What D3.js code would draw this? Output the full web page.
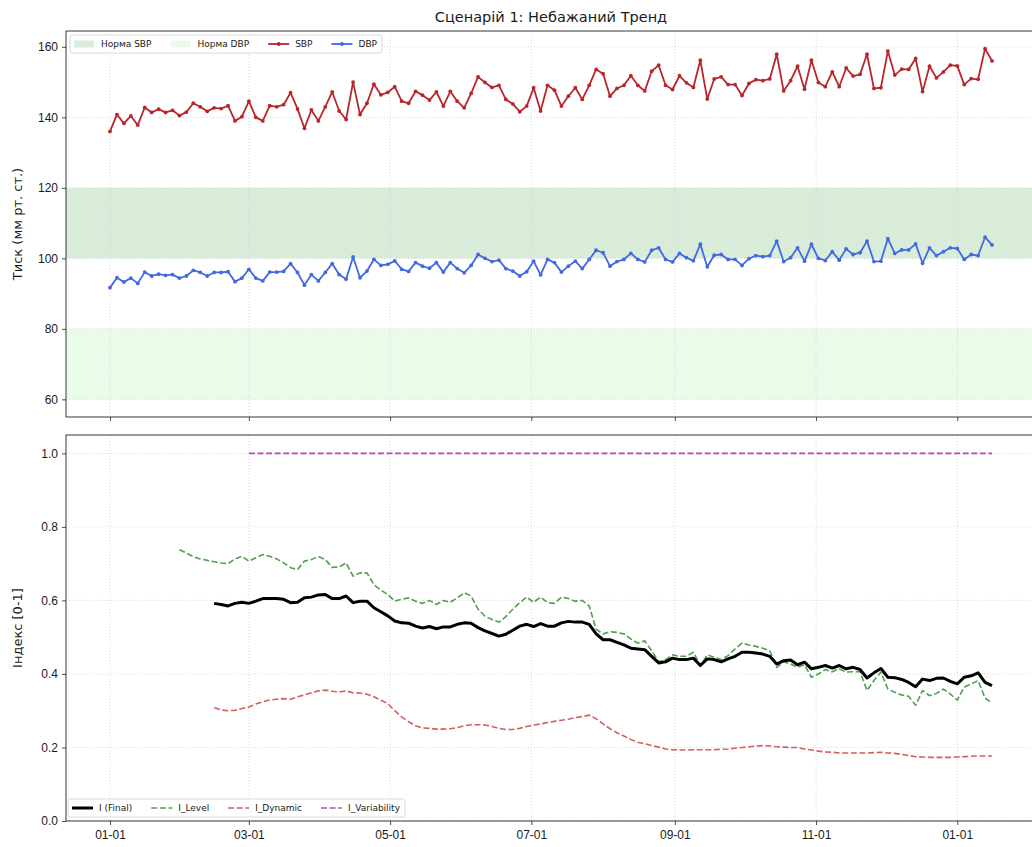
<!DOCTYPE html>
<html lang="uk">
<head>
<meta charset="UTF-8">
<title>Сценарій 1: Небажаний Тренд</title>
<script src="https://cdn.jsdelivr.net/npm/d3@7"></script>
<style>
  body { margin: 0; background: #fff; }
  svg { font-family: "DejaVu Sans", sans-serif; display: block; }
  .grid line { stroke: #cfcfcf; stroke-width: 0.8; stroke-dasharray: 1,2; }
  .grid path { display: none; }
  .axis text { font-size: 12px; fill: #1a1a1a; }
  .axis path { display: none; }
  .axis line { stroke: #222; stroke-width: 0.8; }
  .legend text { font-size: 9px; fill: #1a1a1a; }
</style>
</head>
<body>
<svg id="chart" width="1032" height="847"></svg>
<script>
// measurements every 3 days starting 2024-01-01
var startDate = new Date(Date.UTC(2024, 0, 1));
var stepDays = 3;

var sbp = [136.0,140.8,138.3,140.4,137.8,142.8,141.4,142.3,141.4,142.0,
           140.5,141.5,144.0,143.0,141.7,142.7,142.5,143.3,139.0,140.2,
           144.6,140.0,139.0,143.3,143.0,143.6,147.0,142.4,136.9,142.1,
           139.0,143.0,147.2,141.8,139.4,150.0,140.8,144.0,149.4,146.4,
           147.1,148.7,144.6,144.0,147.4,146.3,144.9,147.2,143.2,147.4,
           144.6,142.7,146.8,151.5,149.9,148.5,149.1,145.1,143.8,141.6,
           143.2,148.4,141.8,149.1,147.7,143.2,146.0,148.4,145.1,149.1,
           153.6,152.4,146.0,148.2,149.1,151.8,149.1,147.5,153.1,154.8,
           149.1,147.9,151.8,149.8,148.5,156.2,145.2,150.9,151.5,149.3,
           149.3,146.2,149.6,150.7,150.4,150.9,157.9,147.5,150.4,154.5,
           148.0,156.2,149.9,148.7,152.9,148.7,154.0,151.7,152.2,157.9,
           148.2,148.4,158.8,152.0,153.7,153.6,156.7,147.3,154.5,151.2,
           152.9,154.8,154.6,149.3,151.0,150.8,159.5,156.0];

var dbp = [91.7,94.5,93.3,94.4,92.9,96.1,95.0,95.5,95.2,95.4,
           94.4,95.0,96.6,96.0,95.0,96.0,96.0,96.2,93.4,94.4,
           96.9,94.4,93.6,96.1,96.1,96.3,98.5,96.0,92.4,95.4,
           93.6,96.0,98.5,95.4,94.1,100.4,94.5,96.4,99.7,98.0,
           98.3,99.3,96.9,96.3,98.8,97.8,97.2,98.8,96.1,98.8,
           97.1,95.9,98.0,101.1,100.0,99.1,99.5,97.1,96.4,95.0,
           96.2,99.2,95.3,99.7,98.8,96.1,97.8,99.2,97.1,99.7,
           102.3,101.6,97.8,99.1,99.7,101.4,99.7,99.0,102.3,103.0,
           99.7,99.0,101.4,100.2,99.3,104.0,97.6,100.9,101.1,99.7,
           99.7,98.0,99.9,100.8,100.5,100.8,104.9,99.1,100.2,103.0,
           99.2,104.0,100.0,99.4,101.9,99.5,102.7,101.1,101.6,104.9,
           99.1,99.2,105.6,101.4,102.4,102.4,104.1,98.6,103.0,100.8,
           101.9,103.0,102.8,99.7,101.1,100.8,106.0,103.8];

// normal ranges
var sbpNorm = [100, 120];
var dbpNorm = [60, 80];

// index series, each starts at the given measurement number (0-based)
var levelStart = 10;
var iLevel = [0.738,0.729,0.719,0.713,0.709,0.705,0.702,0.700,0.713,0.720,
              0.707,0.716,0.725,0.720,0.713,0.702,0.689,0.684,0.707,0.711,
              0.720,0.711,0.690,0.691,0.702,0.666,0.675,0.675,0.643,0.628,
              0.616,0.598,0.603,0.607,0.598,0.592,0.600,0.589,0.600,0.595,
              0.607,0.621,0.612,0.576,0.557,0.548,0.541,0.556,0.576,0.594,
              0.609,0.595,0.609,0.594,0.592,0.609,0.605,0.598,0.600,0.585,
              0.522,0.509,0.515,0.513,0.509,0.495,0.484,0.490,0.463,0.433,
              0.439,0.452,0.448,0.448,0.459,0.423,0.452,0.445,0.439,0.450,
              0.468,0.484,0.479,0.475,0.470,0.463,0.418,0.433,0.427,0.418,
              0.425,0.391,0.400,0.412,0.406,0.414,0.405,0.406,0.406,0.355,
              0.382,0.405,0.359,0.350,0.343,0.339,0.315,0.355,0.341,0.347,
              0.359,0.345,0.329,0.364,0.373,0.382,0.334,0.321];

var finalStart = 15;
var iFinal = [0.592,0.589,0.585,0.592,0.595,0.592,0.598,0.605,0.605,0.605,
              0.603,0.594,0.595,0.607,0.609,0.615,0.616,0.605,0.605,0.612,
              0.594,0.598,0.598,0.580,0.569,0.558,0.544,0.539,0.538,0.530,
              0.525,0.529,0.523,0.528,0.528,0.535,0.539,0.538,0.526,0.517,
              0.510,0.503,0.508,0.519,0.530,0.535,0.529,0.537,0.530,0.530,
              0.539,0.543,0.541,0.541,0.535,0.509,0.493,0.493,0.486,0.479,
              0.470,0.468,0.466,0.448,0.430,0.433,0.443,0.439,0.439,0.443,
              0.423,0.441,0.439,0.433,0.441,0.448,0.459,0.459,0.457,0.454,
              0.448,0.427,0.436,0.438,0.425,0.432,0.414,0.418,0.423,0.416,
              0.423,0.414,0.418,0.412,0.389,0.403,0.415,0.391,0.390,0.385,
              0.377,0.365,0.386,0.382,0.388,0.389,0.380,0.373,0.391,0.395,
              0.403,0.377,0.368];

var dynamicStart = 15;
var iDynamic = [0.309,0.302,0.300,0.301,0.306,0.310,0.318,0.324,0.329,0.331,
                0.333,0.331,0.338,0.343,0.349,0.354,0.356,0.353,0.351,0.354,
                0.349,0.348,0.345,0.338,0.329,0.319,0.300,0.283,0.270,0.259,
                0.253,0.252,0.250,0.250,0.251,0.254,0.259,0.262,0.262,0.261,
                0.257,0.252,0.249,0.249,0.252,0.257,0.261,0.264,0.268,0.271,
                0.274,0.277,0.281,0.284,0.288,0.278,0.264,0.251,0.240,0.231,
                0.222,0.214,0.210,0.205,0.201,0.196,0.194,0.193,0.193,0.194,
                0.194,0.194,0.194,0.195,0.196,0.198,0.200,0.202,0.204,0.205,
                0.204,0.202,0.201,0.200,0.200,0.196,0.193,0.190,0.188,0.187,
                0.185,0.185,0.185,0.185,0.185,0.186,0.187,0.185,0.184,0.181,
                0.178,0.175,0.174,0.173,0.173,0.173,0.173,0.174,0.175,0.176,
                0.177,0.177,0.177];

var variabilityStart = 20;
var iVariability = [1,1,1,1,1,1,1,1,1,1, 1,1,1,1,1,1,1,1,1,1,
                    1,1,1,1,1,1,1,1,1,1, 1,1,1,1,1,1,1,1,1,1,
                    1,1,1,1,1,1,1,1,1,1, 1,1,1,1,1,1,1,1,1,1,
                    1,1,1,1,1,1,1,1,1,1, 1,1,1,1,1,1,1,1,1,1,
                    1,1,1,1,1,1,1,1,1,1, 1,1,1,1,1,1,1,1,1,1,
                    1,1,1,1,1,1,1,1];

var pressureTicks = [60, 80, 100, 120, 140, 160];
var indexTicks = [0.0, 0.2, 0.4, 0.6, 0.8, 1.0];

var dates = sbp.map(function(d, i) { return d3.utcDay.offset(startDate, i * stepDays); });

var svg = d3.select("#chart");
var left = 66, right = 1036;
var top1 = 31, bottom1 = 417, top2 = 435, bottom2 = 821;

var x = d3.scaleUtc()
    .domain([d3.utcDay.offset(dates[0], -19), d3.utcDay.offset(dates[dates.length - 1], 19)])
    .range([left, right]);
var y1 = d3.scaleLinear().domain([55, 164.5]).range([bottom1, top1]);
var y2 = d3.scaleLinear().domain([0, 1.05]).range([bottom2, top2]);

var xTicks = d3.utcMonth.every(2).range(x.domain()[0], x.domain()[1]);
var fmt = d3.utcFormat("%m-%d");

function series(values, offset) {
    return values.map(function(v, i) { return {date: dates[i + offset], value: v}; });
}

function drawGrid(y, ticks, top, bottom) {
    var g = svg.append("g").attr("class", "grid");
    g.selectAll(".gx").data(xTicks).enter().append("line")
        .attr("x1", function(d) { return x(d); }).attr("x2", function(d) { return x(d); })
        .attr("y1", top).attr("y2", bottom);
    g.selectAll(".gy").data(ticks).enter().append("line")
        .attr("x1", left).attr("x2", right)
        .attr("y1", function(d) { return y(d); }).attr("y2", function(d) { return y(d); });
}

// ---- top panel ----
svg.append("rect").attr("x", left).attr("width", right - left)
    .attr("y", y1(sbpNorm[1])).attr("height", y1(sbpNorm[0]) - y1(sbpNorm[1]))
    .attr("fill", "green").attr("fill-opacity", 0.15);
svg.append("rect").attr("x", left).attr("width", right - left)
    .attr("y", y1(dbpNorm[1])).attr("height", y1(dbpNorm[0]) - y1(dbpNorm[1]))
    .attr("fill", "lightgreen").attr("fill-opacity", 0.2);

drawGrid(y1, pressureTicks, top1, bottom1);

var line1 = d3.line().x(function(d) { return x(d.date); }).y(function(d) { return y1(d.value); });

function drawMarked(values, color) {
    var data = series(values, 0);
    svg.append("path").datum(data)
        .attr("fill", "none").attr("stroke", color).attr("stroke-width", 1.8)
        .attr("stroke-linejoin", "round").attr("d", line1);
    svg.append("g").selectAll("circle").data(data).enter().append("circle")
        .attr("cx", function(d) { return x(d.date); })
        .attr("cy", function(d) { return y1(d.value); })
        .attr("r", 1.9).attr("fill", color);
}
drawMarked(sbp, "#b8262b");
drawMarked(dbp, "#4169e1");

svg.append("g").attr("class", "axis")
    .attr("transform", "translate(" + left + ",0)")
    .call(d3.axisLeft(y1).tickValues(pressureTicks).tickSize(4).tickPadding(4));
svg.append("g").attr("class", "axis")
    .attr("transform", "translate(0," + bottom1 + ")")
    .call(d3.axisBottom(x).tickValues(xTicks).tickSize(4).tickFormat(""));

svg.append("rect").attr("x", left).attr("y", top1)
    .attr("width", right - left).attr("height", bottom1 - top1)
    .attr("fill", "none").attr("stroke", "#222").attr("stroke-width", 0.9);

// ---- bottom panel ----
drawGrid(y2, indexTicks, top2, bottom2);

var line2 = d3.line().x(function(d) { return x(d.date); }).y(function(d) { return y2(d.value); });

var indexSeries = [
    {name: "I (Final)", values: iFinal, offset: finalStart, color: "#000", width: 3, dash: null},
    {name: "I_Level", values: iLevel, offset: levelStart, color: "#4f9f4f", width: 1.6, dash: "6,2.6"},
    {name: "I_Dynamic", values: iDynamic, offset: dynamicStart, color: "#d45f5f", width: 1.6, dash: "6,2.6"},
    {name: "I_Variability", values: iVariability, offset: variabilityStart, color: "#b447b8", width: 1.6, dash: "6,2.6"}
];
// draw dashed first, black on top
[1, 2, 3, 0].forEach(function(k) {
    var s = indexSeries[k];
    svg.append("path").datum(series(s.values, s.offset))
        .attr("fill", "none").attr("stroke", s.color).attr("stroke-width", s.width)
        .attr("stroke-dasharray", s.dash).attr("stroke-linejoin", "round")
        .attr("d", line2);
});

svg.append("g").attr("class", "axis")
    .attr("transform", "translate(" + left + ",0)")
    .call(d3.axisLeft(y2).tickValues(indexTicks).tickSize(4).tickPadding(4).tickFormat(d3.format(".1f")));
svg.append("g").attr("class", "axis")
    .attr("transform", "translate(0," + bottom2 + ")")
    .call(d3.axisBottom(x).tickValues(xTicks).tickSize(4).tickPadding(5).tickFormat(fmt));

svg.append("rect").attr("x", left).attr("y", top2)
    .attr("width", right - left).attr("height", bottom2 - top2)
    .attr("fill", "none").attr("stroke", "#222").attr("stroke-width", 0.9);

// ---- titles ----
svg.append("text").attr("x", (left + right) / 2).attr("y", 22)
    .attr("text-anchor", "middle").attr("font-size", "14.5px").attr("fill", "#1a1a1a")
    .text("Сценарій 1: Небажаний Тренд");
svg.append("text").attr("transform", "translate(22," + (top1 + bottom1) / 2 + ") rotate(-90)")
    .attr("text-anchor", "middle").attr("font-size", "13px").attr("fill", "#1a1a1a")
    .text("Тиск (мм рт. ст.)");
svg.append("text").attr("transform", "translate(22," + (top2 + bottom2) / 2 + ") rotate(-90)")
    .attr("text-anchor", "middle").attr("font-size", "13px").attr("fill", "#1a1a1a")
    .text("Індекс [0-1]");

// ---- legends ----
function legend(x0, y0, items) {
    var g = svg.append("g").attr("class", "legend");
    var box = g.append("rect").attr("x", x0).attr("y", y0).attr("height", 18)
        .attr("rx", 2).attr("fill", "#fff").attr("fill-opacity", 0.85)
        .attr("stroke", "#d0d0d0").attr("stroke-width", 0.8);
    var cx = x0 + 4, cy = y0 + 9;
    items.forEach(function(it) {
        if (it.type === "patch") {
            g.append("rect").attr("x", cx).attr("y", cy - 3.5).attr("width", 20).attr("height", 7)
                .attr("fill", it.color).attr("fill-opacity", it.opacity);
        } else {
            g.append("line").attr("x1", cx).attr("x2", cx + 21).attr("y1", cy).attr("y2", cy)
                .attr("stroke", it.color).attr("stroke-width", it.width)
                .attr("stroke-dasharray", it.dash || null);
            if (it.marker) {
                g.append("circle").attr("cx", cx + 10.5).attr("cy", cy).attr("r", 1.9).attr("fill", it.color);
            }
        }
        var t = g.append("text").attr("x", cx + 27).attr("y", cy).attr("dy", "0.35em").text(it.label);
        cx = cx + 27 + t.node().getComputedTextLength() + 19;
    });
    box.attr("width", cx - 19 + 5 - x0);
}

legend(70, 35, [
    {type: "patch", color: "green", opacity: 0.15, label: "Норма SBP"},
    {type: "patch", color: "lightgreen", opacity: 0.2, label: "Норма DBP"},
    {type: "line", color: "#b8262b", width: 1.8, marker: true, label: "SBP"},
    {type: "line", color: "#4169e1", width: 1.8, marker: true, label: "DBP"}
]);

legend(68, 799, indexSeries.map(function(s) {
    return {type: "line", color: s.color, width: s.width, dash: s.dash ? "6,2.6" : null, label: s.name};
}));
</script>
</body>
</html>
